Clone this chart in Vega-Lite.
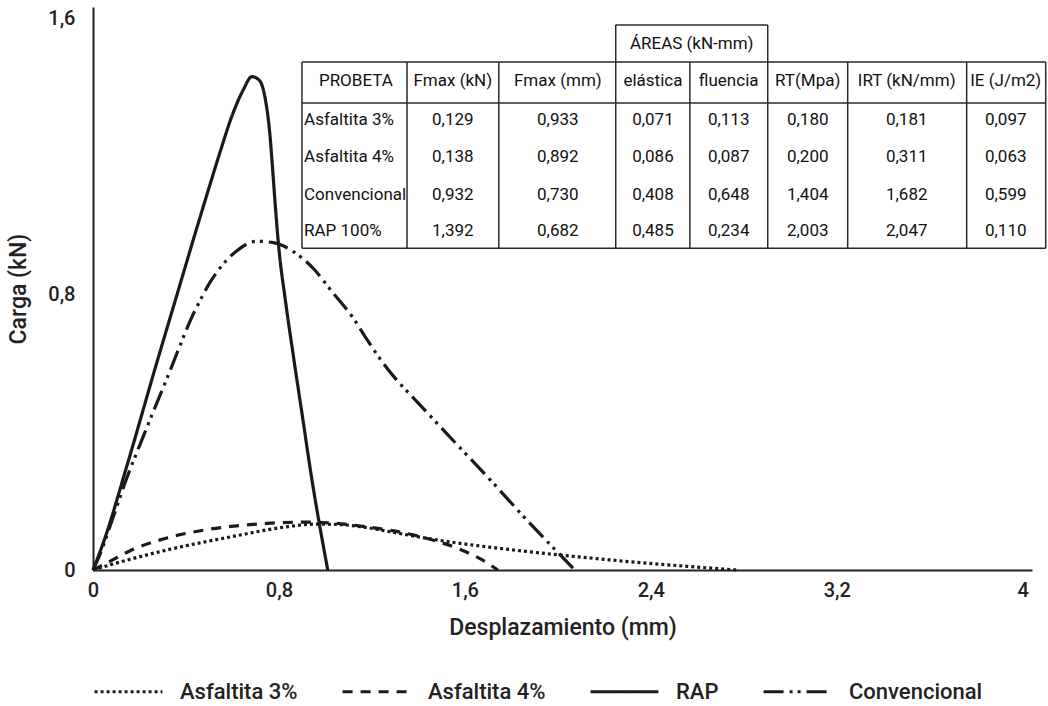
{
  "$schema": "https://vega.github.io/schema/vega-lite/v6.json",
  "width": 939,
  "height": 563,
  "autosize": {"type": "none"},
  "padding": {"left": 93, "top": 7, "right": 16, "bottom": 136},
  "background": "white",
  "config": {
    "view": {"stroke": null},
    "font": "Roboto",
    "axis": {"grid": false, "ticks": false, "domainColor": "#222", "domainWidth": 2, "labelColor": "#222", "titleColor": "#222", "labelFont": "Roboto", "titleFont": "Roboto", "labelFontSize": 20, "labelFontWeight": 500, "titleFontSize": 23, "titleFontWeight": 500},
    "legend": {"labelFont": "Roboto", "labelFontSize": 22, "labelFontWeight": 500, "labelColor": "#222"}
  },
  "datasets": {
    "curves": [
      {"serie": "Asfaltita 3%", "x": 0, "y": 0},
      {"serie": "Asfaltita 3%", "x": 0.1, "y": 0.02},
      {"serie": "Asfaltita 3%", "x": 0.318, "y": 0.058},
      {"serie": "Asfaltita 3%", "x": 0.6, "y": 0.097},
      {"serie": "Asfaltita 3%", "x": 0.82, "y": 0.124},
      {"serie": "Asfaltita 3%", "x": 0.96, "y": 0.133},
      {"serie": "Asfaltita 3%", "x": 1.05, "y": 0.132},
      {"serie": "Asfaltita 3%", "x": 1.178, "y": 0.123},
      {"serie": "Asfaltita 3%", "x": 1.3, "y": 0.108},
      {"serie": "Asfaltita 3%", "x": 1.52, "y": 0.083},
      {"serie": "Asfaltita 3%", "x": 1.81, "y": 0.058},
      {"serie": "Asfaltita 3%", "x": 2.09, "y": 0.038},
      {"serie": "Asfaltita 3%", "x": 2.38, "y": 0.02},
      {"serie": "Asfaltita 3%", "x": 2.67, "y": 0.005},
      {"serie": "Asfaltita 3%", "x": 2.77, "y": 0},
      {"serie": "Asfaltita 4%", "x": 0, "y": 0},
      {"serie": "Asfaltita 4%", "x": 0.073, "y": 0.025},
      {"serie": "Asfaltita 4%", "x": 0.16, "y": 0.056},
      {"serie": "Asfaltita 4%", "x": 0.318, "y": 0.093},
      {"serie": "Asfaltita 4%", "x": 0.49, "y": 0.117},
      {"serie": "Asfaltita 4%", "x": 0.748, "y": 0.135},
      {"serie": "Asfaltita 4%", "x": 0.92, "y": 0.139},
      {"serie": "Asfaltita 4%", "x": 1.05, "y": 0.135},
      {"serie": "Asfaltita 4%", "x": 1.178, "y": 0.125},
      {"serie": "Asfaltita 4%", "x": 1.406, "y": 0.097},
      {"serie": "Asfaltita 4%", "x": 1.578, "y": 0.06},
      {"serie": "Asfaltita 4%", "x": 1.665, "y": 0.033},
      {"serie": "Asfaltita 4%", "x": 1.742, "y": 0},
      {"serie": "RAP", "x": 0, "y": 0},
      {"serie": "RAP", "x": 0.05, "y": 0.09},
      {"serie": "RAP", "x": 0.145, "y": 0.3},
      {"serie": "RAP", "x": 0.274, "y": 0.6},
      {"serie": "RAP", "x": 0.36, "y": 0.795},
      {"serie": "RAP", "x": 0.446, "y": 0.99},
      {"serie": "RAP", "x": 0.5, "y": 1.11},
      {"serie": "RAP", "x": 0.546, "y": 1.21},
      {"serie": "RAP", "x": 0.6, "y": 1.32},
      {"serie": "RAP", "x": 0.645, "y": 1.39},
      {"serie": "RAP", "x": 0.684, "y": 1.43},
      {"serie": "RAP", "x": 0.715, "y": 1.42},
      {"serie": "RAP", "x": 0.74, "y": 1.37},
      {"serie": "RAP", "x": 0.76, "y": 1.27},
      {"serie": "RAP", "x": 0.772, "y": 1.17},
      {"serie": "RAP", "x": 0.785, "y": 1.05},
      {"serie": "RAP", "x": 0.8, "y": 0.93},
      {"serie": "RAP", "x": 0.826, "y": 0.79},
      {"serie": "RAP", "x": 0.86, "y": 0.63},
      {"serie": "RAP", "x": 0.9, "y": 0.45},
      {"serie": "RAP", "x": 0.94, "y": 0.27},
      {"serie": "RAP", "x": 1.01, "y": 0},
      {"serie": "Convencional", "x": 0, "y": 0},
      {"serie": "Convencional", "x": 0.03, "y": 0.045},
      {"serie": "Convencional", "x": 0.08, "y": 0.14},
      {"serie": "Convencional", "x": 0.145, "y": 0.266},
      {"serie": "Convencional", "x": 0.2, "y": 0.36},
      {"serie": "Convencional", "x": 0.26, "y": 0.46},
      {"serie": "Convencional", "x": 0.33, "y": 0.575},
      {"serie": "Convencional", "x": 0.38, "y": 0.66},
      {"serie": "Convencional", "x": 0.42, "y": 0.725},
      {"serie": "Convencional", "x": 0.46, "y": 0.78},
      {"serie": "Convencional", "x": 0.5, "y": 0.83},
      {"serie": "Convencional", "x": 0.546, "y": 0.875},
      {"serie": "Convencional", "x": 0.618, "y": 0.925},
      {"serie": "Convencional", "x": 0.704, "y": 0.953},
      {"serie": "Convencional", "x": 0.776, "y": 0.949},
      {"serie": "Convencional", "x": 0.862, "y": 0.923},
      {"serie": "Convencional", "x": 0.948, "y": 0.874},
      {"serie": "Convencional", "x": 1.034, "y": 0.802},
      {"serie": "Convencional", "x": 1.12, "y": 0.73},
      {"serie": "Convencional", "x": 1.177, "y": 0.67},
      {"serie": "Convencional", "x": 1.249, "y": 0.599},
      {"serie": "Convencional", "x": 1.43, "y": 0.462},
      {"serie": "Convencional", "x": 1.613, "y": 0.33},
      {"serie": "Convencional", "x": 1.708, "y": 0.262},
      {"serie": "Convencional", "x": 1.88, "y": 0.135},
      {"serie": "Convencional", "x": 1.978, "y": 0.066},
      {"serie": "Convencional", "x": 2.073, "y": 0}
    ],
    "tableLines": [
      {"x1": 2.249, "x2": 2.903, "y1": 1.58, "y2": 1.58},
      {"x1": 2.249, "x2": 2.249, "y1": 1.58, "y2": 1.4725},
      {"x1": 2.903, "x2": 2.903, "y1": 1.58, "y2": 1.4725},
      {"x1": 0.899, "x2": 4.099, "y1": 1.4725, "y2": 1.4725},
      {"x1": 0.899, "x2": 4.099, "y1": 1.354, "y2": 1.354},
      {"x1": 0.899, "x2": 4.099, "y1": 0.933, "y2": 0.933},
      {"x1": 0.899, "x2": 0.899, "y1": 1.4725, "y2": 0.933},
      {"x1": 1.351, "x2": 1.351, "y1": 1.4725, "y2": 0.933},
      {"x1": 1.746, "x2": 1.746, "y1": 1.4725, "y2": 0.933},
      {"x1": 2.249, "x2": 2.249, "y1": 1.4725, "y2": 0.933},
      {"x1": 2.568, "x2": 2.568, "y1": 1.4725, "y2": 0.933},
      {"x1": 2.903, "x2": 2.903, "y1": 1.4725, "y2": 0.933},
      {"x1": 3.247, "x2": 3.247, "y1": 1.4725, "y2": 0.933},
      {"x1": 3.759, "x2": 3.759, "y1": 1.4725, "y2": 0.933},
      {"x1": 4.099, "x2": 4.099, "y1": 1.4725, "y2": 0.933}
    ],
    "tableText": [
      {"x": 2.576, "y": 1.525, "t": "ÁREAS (kN-mm)", "a": "center"},
      {"x": 1.131, "y": 1.417, "t": "PROBETA", "a": "center"},
      {"x": 1.548, "y": 1.417, "t": "Fmax (kN)", "a": "center"},
      {"x": 2.0, "y": 1.417, "t": "Fmax (mm)", "a": "center"},
      {"x": 2.409, "y": 1.417, "t": "elástica", "a": "center"},
      {"x": 2.735, "y": 1.417, "t": "fluencia", "a": "center"},
      {"x": 3.075, "y": 1.417, "t": "RT(Mpa)", "a": "center"},
      {"x": 3.501, "y": 1.417, "t": "IRT (kN/mm)", "a": "center"},
      {"x": 3.927, "y": 1.417, "t": "IE (J/m2)", "a": "center"},
      {"x": 0.908, "y": 1.304, "t": "Asfaltita 3%", "a": "left"},
      {"x": 1.548, "y": 1.304, "t": "0,129", "a": "center"},
      {"x": 2.0, "y": 1.304, "t": "0,933", "a": "center"},
      {"x": 2.409, "y": 1.304, "t": "0,071", "a": "center"},
      {"x": 2.735, "y": 1.304, "t": "0,113", "a": "center"},
      {"x": 3.075, "y": 1.304, "t": "0,180", "a": "center"},
      {"x": 3.501, "y": 1.304, "t": "0,181", "a": "center"},
      {"x": 3.927, "y": 1.304, "t": "0,097", "a": "center"},
      {"x": 0.908, "y": 1.197, "t": "Asfaltita 4%", "a": "left"},
      {"x": 1.548, "y": 1.197, "t": "0,138", "a": "center"},
      {"x": 2.0, "y": 1.197, "t": "0,892", "a": "center"},
      {"x": 2.409, "y": 1.197, "t": "0,086", "a": "center"},
      {"x": 2.735, "y": 1.197, "t": "0,087", "a": "center"},
      {"x": 3.075, "y": 1.197, "t": "0,200", "a": "center"},
      {"x": 3.501, "y": 1.197, "t": "0,311", "a": "center"},
      {"x": 3.927, "y": 1.197, "t": "0,063", "a": "center"},
      {"x": 0.908, "y": 1.087, "t": "Convencional", "a": "left"},
      {"x": 1.548, "y": 1.087, "t": "0,932", "a": "center"},
      {"x": 2.0, "y": 1.087, "t": "0,730", "a": "center"},
      {"x": 2.409, "y": 1.087, "t": "0,408", "a": "center"},
      {"x": 2.735, "y": 1.087, "t": "0,648", "a": "center"},
      {"x": 3.075, "y": 1.087, "t": "1,404", "a": "center"},
      {"x": 3.501, "y": 1.087, "t": "1,682", "a": "center"},
      {"x": 3.927, "y": 1.087, "t": "0,599", "a": "center"},
      {"x": 0.908, "y": 0.983, "t": "RAP 100%", "a": "left"},
      {"x": 1.548, "y": 0.983, "t": "1,392", "a": "center"},
      {"x": 2.0, "y": 0.983, "t": "0,682", "a": "center"},
      {"x": 2.409, "y": 0.983, "t": "0,485", "a": "center"},
      {"x": 2.735, "y": 0.983, "t": "0,234", "a": "center"},
      {"x": 3.075, "y": 0.983, "t": "2,003", "a": "center"},
      {"x": 3.501, "y": 0.983, "t": "2,047", "a": "center"},
      {"x": 3.927, "y": 0.983, "t": "0,110", "a": "center"}
    ]
  },
  "layer": [
    {
      "data": {"name": "curves"},
      "mark": {"type": "line", "interpolate": "monotone", "color": "#1a1a1a", "strokeWidth": 3.2},
      "encoding": {
        "x": {"field": "x", "type": "quantitative", "scale": {"domain": [0, 4.04], "nice": false, "zero": false},
              "axis": {"values": [0, 0.8, 1.6, 2.4, 3.2, 4], "labelExpr": "replace(format(datum.value, '.1~f'), '.', ',')", "labelFlush": false, "labelPadding": 10, "title": "Desplazamiento (mm)", "titlePadding": 16}},
        "y": {"field": "y", "type": "quantitative", "scale": {"domain": [0, 1.632], "nice": false},
              "axis": {"values": [0, 0.8, 1.6], "labelExpr": "replace(format(datum.value, '.1~f'), '.', ',')", "labelPadding": 18, "title": "Carga (kN)", "titlePadding": 17}},
        "strokeDash": {"field": "serie", "type": "nominal",
          "scale": {"domain": ["Asfaltita 3%", "Asfaltita 4%", "RAP", "Convencional"], "range": [[3, 3], [10, 8], [1, 0], [20, 6, 3, 5, 3, 6]]},
          "legend": {"title": null, "orient": "bottom", "direction": "horizontal", "symbolType": "stroke", "symbolSize": 4600, "symbolStrokeWidth": 3, "symbolStrokeColor": "#1a1a1a", "labelOffset": 16, "columnPadding": 38, "offset": 17}},
        "order": {"field": "x", "type": "quantitative"}
      }
    },
    {
      "data": {"name": "tableLines"},
      "mark": {"type": "rule", "color": "#2a2a2a", "strokeWidth": 1.5},
      "encoding": {
        "x": {"field": "x1", "type": "quantitative"},
        "x2": {"field": "x2"},
        "y": {"field": "y1", "type": "quantitative"},
        "y2": {"field": "y2"}
      }
    },
    {
      "data": {"name": "tableText"},
      "transform": [{"filter": "datum.a == 'center'"}],
      "mark": {"type": "text", "font": "Roboto", "fontSize": 17, "fontWeight": 400, "color": "#111", "baseline": "middle", "align": "center"},
      "encoding": {
        "x": {"field": "x", "type": "quantitative"},
        "y": {"field": "y", "type": "quantitative"},
        "text": {"field": "t"}
      }
    },
    {
      "data": {"name": "tableText"},
      "transform": [{"filter": "datum.a == 'left'"}],
      "mark": {"type": "text", "font": "Roboto", "fontSize": 17, "fontWeight": 400, "color": "#111", "baseline": "middle", "align": "left"},
      "encoding": {
        "x": {"field": "x", "type": "quantitative"},
        "y": {"field": "y", "type": "quantitative"},
        "text": {"field": "t"}
      }
    }
  ]
}
